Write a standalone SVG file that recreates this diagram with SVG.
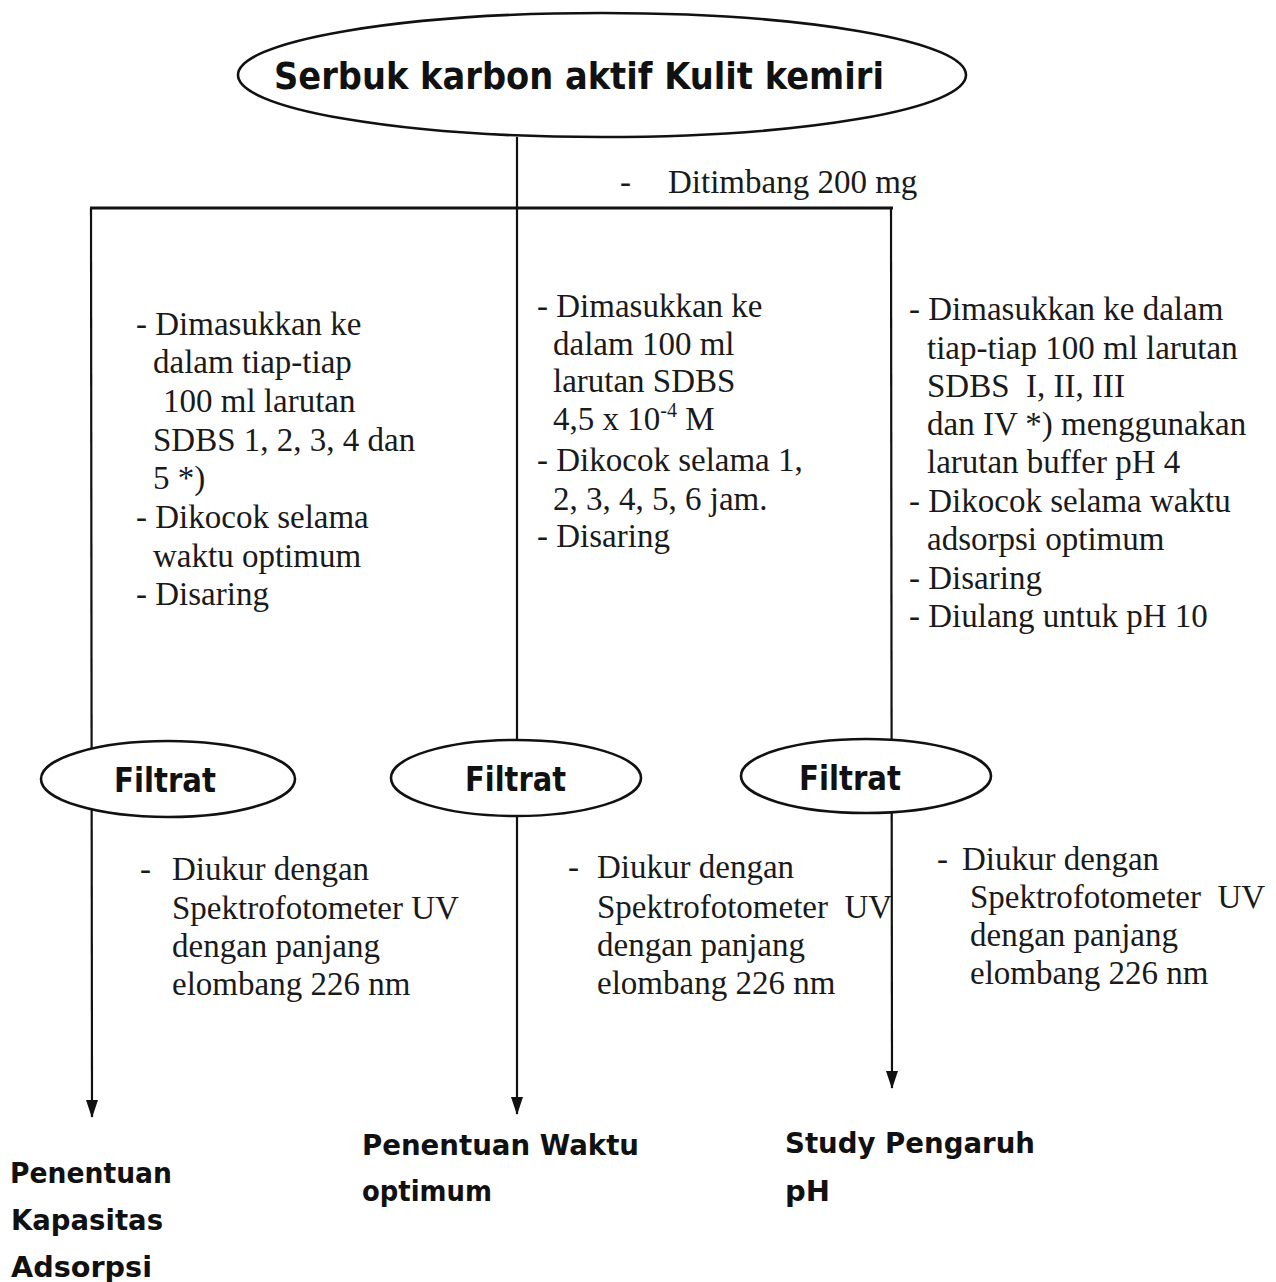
<svg xmlns="http://www.w3.org/2000/svg" width="1276" height="1282" viewBox="0 0 1276 1282">
<style>
.bg{fill:#fff}
.ln{stroke:#111;stroke-width:2.2;fill:none}
.el{fill:#fff;stroke:#111;stroke-width:2.6}
.t{font-family:"Liberation Serif","Times New Roman",serif;font-size:33px;fill:#1a1a1a}
.c{font-family:"Comic Sans MS","DejaVu Sans",sans-serif;font-weight:bold;fill:#111}
</style>
<defs>
<marker id="ah" markerUnits="userSpaceOnUse" viewBox="0 0 18 12" markerWidth="18" markerHeight="12" refX="17" refY="6" orient="auto">
<path d="M0,0 L18,6 L0,12 Z" fill="#111"/>
</marker>
</defs>
<rect class="bg" x="0" y="0" width="1276" height="1282"/>

<g id="connectors">
<line class="ln" x1="517" y1="137" x2="517" y2="1114" marker-end="url(#ah)"/>
<line class="ln" x1="90" y1="208" x2="893" y2="208" style="stroke-width:3"/>
<line class="ln" x1="91" y1="208" x2="92" y2="1117" marker-end="url(#ah)"/>
<line class="ln" x1="891" y1="208" x2="892" y2="1088" marker-end="url(#ah)"/>
</g>

<g id="start">
<ellipse class="el" cx="602" cy="75" rx="364" ry="62"/>
<text class="c" x="274" y="89" font-size="38" textLength="610" lengthAdjust="spacingAndGlyphs">Serbuk karbon aktif Kulit kemiri</text>
</g>

<g id="step-weigh">
<text class="t" x="620" y="193">-</text>
<text class="t" x="668" y="193">Ditimbang 200 mg</text>
</g>

<g id="proc-left">
<text class="t" x="136" y="335">- Dimasukkan ke</text>
<text class="t" x="153" y="373">dalam tiap-tiap</text>
<text class="t" x="163" y="412">100 ml larutan</text>
<text class="t" x="153" y="451">SDBS 1, 2, 3, 4 dan</text>
<text class="t" x="153" y="489">5 *)</text>
<text class="t" x="136" y="528">- Dikocok selama</text>
<text class="t" x="153" y="567">waktu optimum</text>
<text class="t" x="136" y="605">- Disaring</text>
</g>

<g id="proc-mid">
<text class="t" x="537" y="317">- Dimasukkan ke</text>
<text class="t" x="553" y="355">dalam 100 ml</text>
<text class="t" x="553" y="392">larutan SDBS</text>
<text class="t" x="553" y="430">4,5 x 10<tspan font-size="20" dy="-13">-4</tspan><tspan dy="13"> M</tspan></text>
<text class="t" x="537" y="471">- Dikocok selama 1,</text>
<text class="t" x="553" y="510">2, 3, 4, 5, 6 jam.</text>
<text class="t" x="537" y="547">- Disaring</text>
</g>

<g id="proc-right">
<text class="t" x="909" y="320">- Dimasukkan ke dalam</text>
<text class="t" x="927" y="359">tiap-tiap 100 ml larutan</text>
<text class="t" x="927" y="397" xml:space="preserve">SDBS  I, II, III</text>
<text class="t" x="927" y="435">dan IV *) menggunakan</text>
<text class="t" x="927" y="473">larutan buffer pH 4</text>
<text class="t" x="909" y="512">- Dikocok selama waktu</text>
<text class="t" x="927" y="550">adsorpsi optimum</text>
<text class="t" x="909" y="589">- Disaring</text>
<text class="t" x="909" y="627">- Diulang untuk pH 10</text>
</g>

<g id="filtrat-1">
<ellipse class="el" cx="168" cy="779" rx="127" ry="38"/>
<text class="c" x="114" y="792" font-size="34" textLength="102" lengthAdjust="spacingAndGlyphs">Filtrat</text>
</g>
<g id="filtrat-2">
<ellipse class="el" cx="516" cy="778" rx="125" ry="38"/>
<text class="c" x="465" y="791" font-size="34" textLength="101" lengthAdjust="spacingAndGlyphs">Filtrat</text>
</g>
<g id="filtrat-3">
<ellipse class="el" cx="866" cy="776" rx="125" ry="37"/>
<text class="c" x="799" y="790" font-size="34" textLength="102" lengthAdjust="spacingAndGlyphs">Filtrat</text>
</g>

<g id="measure-left">
<text class="t" x="140" y="880">-</text>
<text class="t" x="172" y="880">Diukur dengan</text>
<text class="t" x="172" y="919">Spektrofotometer UV</text>
<text class="t" x="172" y="957">dengan panjang</text>
<text class="t" x="172" y="995">elombang 226 nm</text>
</g>
<g id="measure-mid">
<text class="t" x="568" y="878">-</text>
<text class="t" x="597" y="878">Diukur dengan</text>
<text class="t" x="597" y="918" xml:space="preserve">Spektrofotometer  UV</text>
<text class="t" x="597" y="956">dengan panjang</text>
<text class="t" x="597" y="994">elombang 226 nm</text>
</g>
<g id="measure-right">
<text class="t" x="937" y="870">-</text>
<text class="t" x="962" y="870">Diukur dengan</text>
<text class="t" x="970" y="908" xml:space="preserve">Spektrofotometer  UV</text>
<text class="t" x="970" y="946">dengan panjang</text>
<text class="t" x="970" y="984">elombang 226 nm</text>
</g>

<g id="result-left">
<text class="c" x="10" y="1183" font-size="29" textLength="162" lengthAdjust="spacingAndGlyphs">Penentuan</text>
<text class="c" x="11" y="1230" font-size="29" textLength="152" lengthAdjust="spacingAndGlyphs">Kapasitas</text>
<text class="c" x="11" y="1277" font-size="29" textLength="141" lengthAdjust="spacingAndGlyphs">Adsorpsi</text>
</g>
<g id="result-mid">
<text class="c" x="362" y="1155" font-size="29" textLength="277" lengthAdjust="spacingAndGlyphs">Penentuan Waktu</text>
<text class="c" x="362" y="1201" font-size="29" textLength="130" lengthAdjust="spacingAndGlyphs">optimum</text>
</g>
<g id="result-right">
<text class="c" x="785" y="1153" font-size="29" textLength="250" lengthAdjust="spacingAndGlyphs">Study Pengaruh</text>
<text class="c" x="785" y="1201" font-size="29" textLength="45" lengthAdjust="spacingAndGlyphs">pH</text>
</g>
</svg>
